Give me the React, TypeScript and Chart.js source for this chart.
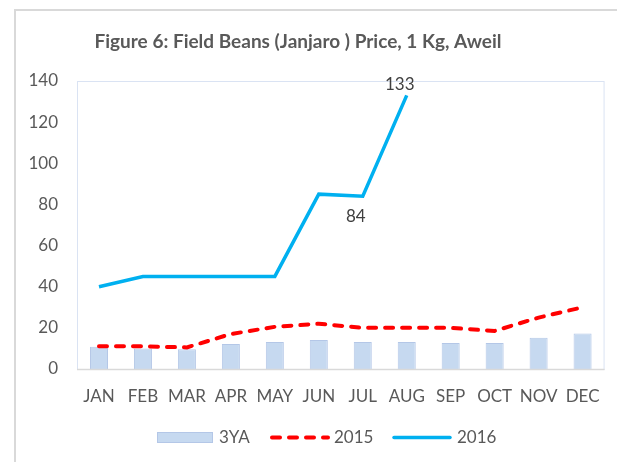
import React, { useEffect, useRef } from "react";
import { Chart, registerables } from "chart.js";

Chart.register(...registerables);

const months = ["JAN", "FEB", "MAR", "APR", "MAY", "JUN", "JUL", "AUG", "SEP", "OCT", "NOV", "DEC"];
const threeYA = [10.8, 10, 9.6, 12.2, 13.1, 14.1, 13.1, 13.1, 12.6, 12.6, 15.2, 17.2];
const y2015 = [11, 11, 10.5, 17, 20.5, 22, 20, 20, 20, 18.5, 25, 30];
const y2016: (number | null)[] = [40, 45, 45, 45, 45, 85, 84, 133, null, null, null, null];
const yTicks = [0, 20, 40, 60, 80, 100, 120, 140];
const labelled2016: { index: number; pos: "above" | "below" }[] = [
  { index: 6, pos: "below" },
  { index: 7, pos: "above" },
];
const title = "Figure 6: Field Beans (Janjaro ) Price, 1 Kg, Aweil";
const legendNames = ["3YA", "2015", "2016"];

const FONT = "Lato, 'Open Sans', sans-serif";
const TEXT = "#595959";
const BAR_FILL = "#c6d9f0";
const BAR_BORDER = "#b4c7e7";
const RED = "#ff0000";
const BLUE = "#00b0f0";

export default function App() {
  const ref = useRef<HTMLCanvasElement | null>(null);

  useEffect(() => {
    if (!ref.current) return;
    const framePlugin = {
      id: "frame",
      beforeDraw(chart: any) {
        const { ctx, width, height } = chart;
        ctx.save();
        ctx.fillStyle = "#ffffff";
        ctx.fillRect(0, 0, width, height);
        ctx.strokeStyle = "#d9d9d9";
        ctx.lineWidth = 2;
        ctx.beginPath();
        ctx.moveTo(15, height);
        ctx.lineTo(15, 10);
        ctx.lineTo(width, 10);
        ctx.stroke();
        // title
        ctx.fillStyle = TEXT;
        ctx.font = `bold 19px ${FONT}`;
        ctx.textAlign = "center";
        ctx.textBaseline = "middle";
        ctx.fillText(title, 298, 42);
        // plot border
        const a = chart.chartArea;
        ctx.strokeStyle = "#dae3f3";
        ctx.lineWidth = 1;
        ctx.strokeRect(a.left + 0.5, a.top + 0.5, a.right - a.left - 1, a.bottom - a.top);
        ctx.restore();
      },
      afterDraw(chart: any) {
        const { ctx } = chart;
        const a = chart.chartArea;
        ctx.save();
        ctx.strokeStyle = "#d9d9d9";
        ctx.lineWidth = 1.5;
        ctx.beginPath();
        ctx.moveTo(a.left, a.bottom + 0.5);
        ctx.lineTo(a.right, a.bottom + 0.5);
        ctx.stroke();
        // legend
        const ly = 437.5;
        ctx.font = `17px ${FONT}`;
        ctx.textAlign = "left";
        ctx.textBaseline = "middle";
        ctx.fillStyle = BAR_FILL;
        ctx.fillRect(157, 432, 56, 11);
        ctx.strokeStyle = BAR_BORDER;
        ctx.lineWidth = 1;
        ctx.strokeRect(157.5, 432.5, 55, 10);
        ctx.fillStyle = TEXT;
        ctx.fillText(legendNames[0], 219, ly);
        ctx.strokeStyle = RED;
        ctx.lineWidth = 4;
        ctx.lineCap = "round";
        ctx.setLineDash([8, 9]);
        ctx.beginPath();
        ctx.moveTo(272, ly);
        ctx.lineTo(328, ly);
        ctx.stroke();
        ctx.setLineDash([]);
        ctx.fillText(legendNames[1], 334, ly);
        ctx.strokeStyle = BLUE;
        ctx.lineWidth = 3.5;
        ctx.beginPath();
        ctx.moveTo(394, ly);
        ctx.lineTo(450, ly);
        ctx.stroke();
        ctx.fillText(legendNames[2], 457, ly);
        // data labels
        const meta = chart.getDatasetMeta(2);
        ctx.fillStyle = "#404040";
        ctx.textAlign = "center";
        labelled2016.forEach(({ index, pos }) => {
          const el = meta.data[index];
          const v = y2016[index];
          if (!el || v == null) return;
          const x = el.x - 7;
          const y = pos === "above" ? el.y - 11 : el.y + 20;
          ctx.fillText(String(v), x, y);
        });
        ctx.restore();
      },
    };

    const chart = new Chart(ref.current, {
      type: "bar",
      data: {
        labels: months,
        datasets: [
          {
            type: "bar",
            label: legendNames[0],
            data: threeYA,
            backgroundColor: BAR_FILL,
            borderColor: BAR_BORDER,
            borderWidth: 1,
            barPercentage: 0.41,
            categoryPercentage: 1,
            order: 3,
          },
          {
            type: "line",
            label: legendNames[1],
            data: y2015,
            borderColor: RED,
            borderWidth: 4,
            borderDash: [8, 9],
            borderCapStyle: "round",
            pointRadius: 0,
            tension: 0,
            order: 2,
          },
          {
            type: "line",
            label: legendNames[2],
            data: y2016,
            borderColor: BLUE,
            borderWidth: 3.5,
            pointRadius: 0,
            tension: 0,
            order: 1,
          },
        ] as any,
      },
      options: {
        responsive: false,
        animation: false,
        layout: { padding: { top: 81, right: 12, left: 0, bottom: 0 } },
        plugins: {
          legend: { display: false },
          title: { display: false },
          tooltip: { enabled: false },
        },
        scales: {
          x: {
            offset: true,
            grid: { display: false, drawTicks: false },
            border: { display: false },
            ticks: { color: TEXT, font: { family: FONT, size: 17 }, padding: 17, maxRotation: 0 },
            afterFit(scale: any) {
              scale.height = 93;
            },
          },
          y: {
            min: 0,
            max: 140,
            grid: { display: false, drawTicks: false },
            border: { display: false },
            afterBuildTicks(scale: any) {
              scale.ticks = yTicks.map((v) => ({ value: v }));
            },
            ticks: { color: TEXT, font: { family: FONT, size: 17 }, padding: 19 },
            afterFit(scale: any) {
              scale.width = 77;
            },
          },
        },
      } as any,
      plugins: [framePlugin],
    });
    return () => chart.destroy();
  }, []);

  return (
    <div style={{ position: "absolute", left: 0, top: 0, width: 617, height: 462 }}>
      <canvas ref={ref} width={617} height={462} style={{ display: "block" }} />
    </div>
  );
}
